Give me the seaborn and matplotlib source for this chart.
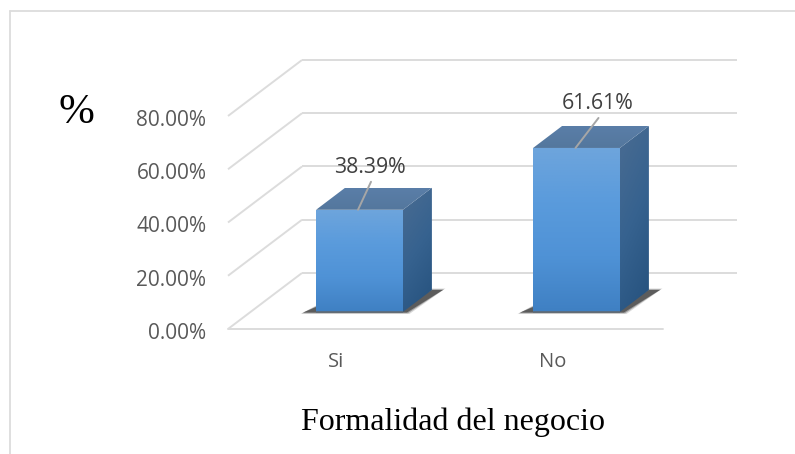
import matplotlib
matplotlib.use("Agg")
import matplotlib.pyplot as plt
import matplotlib.transforms as mtrans
from matplotlib.lines import Line2D
from matplotlib.patches import Polygon
from matplotlib.colors import LinearSegmentedColormap
import numpy as np
import seaborn as sns

categories = ["Si", "No"]
values = [38.39, 61.61]
y_ticks = [0, 20, 40, 60, 80]
y_tick_labels = ["0.00%", "20.00%", "40.00%", "60.00%", "80.00%"]
x_title = "Formalidad del negocio"
y_title = "%"

W, H, DPI = 795, 454, 100
GRID = "#dcdcdc"

sns.set_theme(style="white")
plt.rcParams["font.family"] = ["Open Sans", "DejaVu Sans"]

fig = plt.figure(figsize=(W / DPI, H / DPI), dpi=DPI, facecolor="white")

# The axes run over the floor and back wall of the fake 3D box
left, right, bottom, top = 228.0, 737.0, 329.0, 60.0
ax = fig.add_axes([left / W, 1 - bottom / H, (right - left) / W, (bottom - top) / H])
ax.patch.set_alpha(0)

PX_PER_CAT = 217.0
PX_PER_PCT = 2.6625
BAR_X0, BAR_Y0 = 359.5, 312.0
ax.set_zorder(1)


def shift(dx_px, dy_px):
    """Pixel offset (y pointing up) expressed in data units."""
    return dx_px / PX_PER_CAT, dy_px / PX_PER_PCT


sns.barplot(x=categories, y=values, width=0.4, color="#5a9bdc", saturation=1,
            ax=ax, zorder=3, linewidth=0)

xlim = ((left - BAR_X0) / PX_PER_CAT, (right - BAR_X0) / PX_PER_CAT)
ylim = ((BAR_Y0 - bottom) / PX_PER_PCT, (BAR_Y0 - top) / PX_PER_PCT)

# Perspective offsets between the planes of the box
fx, fy = shift(-22.5, -17.0)   # bar front plane -> chart front edge
bx, by = shift(51.5, 39.0)     # bar front plane -> back wall
dx, dy = shift(29.0, 22.0)     # depth of each bar

x_front_l = xlim[0]
x_back_r = xlim[1]
x_front_r = x_back_r - (bx - fx)
x_back_l = x_front_l + (bx - fx)

for t in y_ticks:
    ax.plot([x_front_l, x_back_l], [t + fy, t + by], color=GRID, lw=1.4, zorder=1,
            clip_on=False, solid_capstyle="butt")
    ax.plot([x_back_l, x_back_r], [t + by, t + by], color=GRID, lw=1.4, zorder=1,
            clip_on=False, solid_capstyle="butt")
ax.plot([x_front_l, x_front_r], [fy, fy], color=GRID, lw=1.4, zorder=1, clip_on=False)

front_cmap = LinearSegmentedColormap.from_list(
    "front", ["#3f80c3", "#4f92d6", "#5a9bdc", "#6ea5dc"])
side_cmap = LinearSegmentedColormap.from_list("side", ["#25517d", "#36628f", "#4a6c92"])
top_cmap = LinearSegmentedColormap.from_list("top", ["#54779d", "#5a7ea8"])


def gradient(poly_xy, cmap, diagonal=False, zorder=3.2):
    poly = Polygon(poly_xy, closed=True, transform=ax.transData, fc="none", ec="none")
    ax.add_patch(poly)
    xs, ys = np.array(poly_xy).T
    g_y = np.linspace(0, 1, 128)[:, None]
    g = np.repeat(g_y, 32, axis=1)
    if diagonal:
        g = 0.75 * g + 0.25 * (1 - np.linspace(0, 1, 32)[None, :])
    im = ax.imshow(g, extent=(xs.min(), xs.max(), ys.min(), ys.max()), origin="lower",
                   cmap=cmap, vmin=0, vmax=1, aspect="auto", zorder=zorder,
                   interpolation="bilinear")
    im.set_clip_path(poly)


label_offsets = [(10.0, 42.5), (21.5, 44.5)]
leader_ends = [(11.5, 28.0), (22.0, 30.0)]
leader_starts = [-1.5, -1.0]

for bar, v, lab, lead, start in zip(list(ax.patches), values, label_offsets,
                                    leader_ends, leader_starts):
    x0, x1 = bar.get_x(), bar.get_x() + bar.get_width()
    xc = (x0 + x1) / 2

    # Soft floor shadow behind the bar
    for grow, alpha in ((0, 0.6), (1.2, 0.35), (2.5, 0.18)):
        gx, gy = shift(grow, grow * 0.6)
        ax.add_patch(Polygon(
            [(x0 - gx - shift(13, 0)[0], -0.2 - gy), (x0, shift(0, 5)[1] + gy),
             (x1, shift(0, 5)[1] + gy), (x1 + dx, dy + gy),
             (x1 + dx + shift(11, 0)[0] + gx, dy + gy),
             (x1 + shift(4, 0)[0] + gx, -0.2 - gy)],
            closed=True, fc="#303030", ec="none", alpha=alpha, zorder=2))

    gradient([(x1, 0), (x1 + dx, dy), (x1 + dx, v + dy), (x1, v)], side_cmap, diagonal=True)
    gradient([(x0, v), (x1, v), (x1 + dx, v + dy), (x0 + dx, v + dy)], top_cmap)
    gradient([(x0, 0), (x1, 0), (x1, v), (x0, v)], front_cmap, zorder=3.4)
    ax.plot([x0, x1], [0, 0], color="#5f6a75", lw=1.2, zorder=3.5, solid_capstyle="butt")

    # Leader line and value label
    ax.annotate("", xy=(xc + shift(start, 0)[0], v),
                xytext=(xc + shift(lead[0], 0)[0], v + shift(0, lead[1])[1]),
                arrowprops=dict(arrowstyle="-", color="#a6a6a6", lw=1.4, shrinkA=0, shrinkB=0),
                zorder=4)
    ax.text(xc + shift(lab[0], 0)[0], v + shift(0, lab[1])[1], f"{v:.2f}%",
            ha="center", va="center", fontsize=15.3, color="#404040", zorder=5)

ax.set_xlim(*xlim)
ax.set_ylim(*ylim)
sns.despine(ax=ax, left=True, bottom=True, right=True, top=True)
ax.grid(False)

# Tick labels sit on the front plane of the box
ax.set_yticks(y_ticks, y_tick_labels)
ax.set_xticks(range(len(categories)), categories)
ax.tick_params(axis="both", length=0)
ax.tick_params(axis="y", labelsize=15, labelcolor="#595959", pad=15.5)
ax.tick_params(axis="x", labelsize=14.5, labelcolor="#595959", pad=16.5)
px = 1.0 / DPI
for lbl in ax.get_yticklabels():
    lbl.set_transform(lbl.get_transform() + mtrans.ScaledTranslation(0, -19 * px, fig.dpi_scale_trans))
for lbl in ax.get_xticklabels():
    lbl.set_transform(lbl.get_transform() + mtrans.ScaledTranslation(-23.5 * px, 0, fig.dpi_scale_trans))

ax_w, ax_h = right - left, bottom - top
ax.set_xlabel(x_title, fontsize=23, family="Liberation Serif", color="black")
ax.xaxis.set_label_coords((453 - left) / ax_w, (bottom - 422) / ax_h)
ax.xaxis.label.set_va("center")
ax.set_ylabel(y_title, fontsize=31, family="Liberation Serif", color="black", rotation=0)
ax.yaxis.set_label_coords((76 - left) / ax_w, (bottom - 113) / ax_h)
ax.yaxis.label.set_ha("center")
ax.yaxis.label.set_va("center")

# Chart frame: open along the bottom and on the right
frame = dict(color=GRID, lw=1.3, transform=fig.transFigure)
fig.add_artist(Line2D([9.5 / W, 9.5 / W], [0, 1 - 10.5 / H], **frame))
fig.add_artist(Line2D([9.5 / W, 1], [1 - 10.5 / H, 1 - 10.5 / H], **frame))

fig.savefig("out.png", dpi=DPI)
